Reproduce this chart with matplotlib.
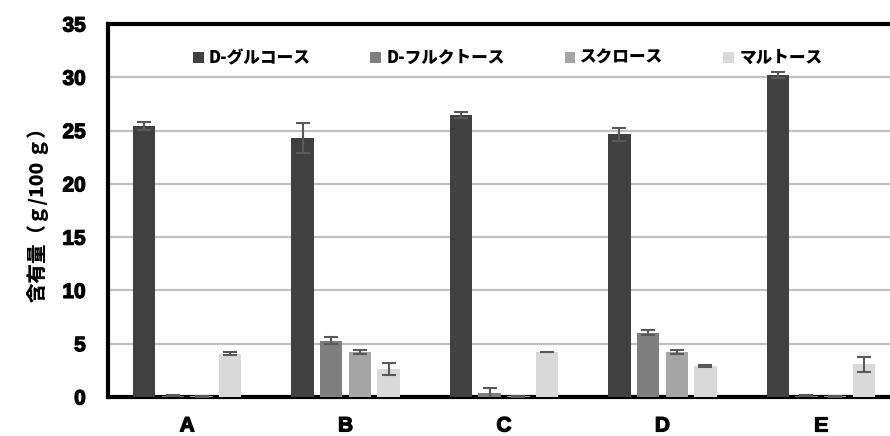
import numpy as np
import matplotlib
matplotlib.use("Agg")
import matplotlib.pyplot as plt
import matplotlib.patheffects as pe

plt.rcParams["font.family"] = ["Liberation Sans", "Noto Sans CJK JP", "DejaVu Sans"]

samples = ["A", "B", "C", "D", "E"]
series = ["D-グルコース", "D-フルクトース", "スクロース", "マルトース"]
glucose = [25.45, 24.3, 26.45, 24.65, 30.2]
glucose_err = [0.4, 1.45, 0.3, 0.6, 0.3]
fructose = [0.12, 5.3, 0.35, 6.03, 0.12]
fructose_err = [0.05, 0.35, 0.5, 0.22, 0.05]
sucrose = [0.05, 4.22, 0.05, 4.22, 0.05]
sucrose_err = [0.02, 0.22, 0.02, 0.22, 0.02]
maltose = [4.06, 2.63, 4.22, 2.94, 3.06]
maltose_err = [0.12, 0.55, 0.04, 0.1, 0.7]
colors = ["#404040", "#7f7f7f", "#a5a5a5", "#d9d9d9"]
ylabel = "含有量（ｇ/100 ｇ）"

values = [glucose, fructose, sucrose, maltose]
errors = [glucose_err, fructose_err, sucrose_err, maltose_err]

fig = plt.figure(figsize=(8.9, 4.36), dpi=100)
ax = fig.add_axes([108 / 890, 1 - 397 / 436, 792 / 890, 373 / 436])

x = np.arange(len(samples))
step = 0.181
width = 0.141
for i, (vals, errs, col, name) in enumerate(zip(values, errors, colors, series)):
    pos = x + (i - 1.5) * step
    ax.bar(pos, vals, width=width, color=col, label=name, zorder=3)
    ax.errorbar(pos, vals, yerr=errs, fmt="none", ecolor="#595959",
                elinewidth=1.5, capsize=5, capthick=1.5, zorder=4)

ax.set_xlim(-0.5, 4.5)
ax.set_ylim(0, 35)
ax.set_yticks(np.arange(0, 36, 5))
ax.set_xticks(x)
ax.set_xticklabels(samples)
ax.tick_params(length=0, labelsize=15)
ax.tick_params(axis="y", pad=16)
ax.tick_params(axis="x", pad=14)
# faux "Arial Black" weight
heavy = [pe.withStroke(linewidth=0.9, foreground="black")]
for lab in ax.get_xticklabels() + ax.get_yticklabels():
    lab.set_fontweight("bold")
    lab.set_path_effects(heavy)

ax.yaxis.grid(True, color="#c0c0c0", linewidth=1.6, zorder=0)
ax.set_axisbelow(True)
for side in ["top", "left", "bottom"]:
    ax.spines[side].set_linewidth(3)
    ax.spines[side].set_color("black")
ax.spines["right"].set_visible(False)

ax.set_ylabel(ylabel, fontsize=14, fontweight="black",
              family=["Noto Sans CJK JP", "DejaVu Sans"], labelpad=10)

leg = ax.legend(loc="center", bbox_to_anchor=(0.5045, 0.909), ncol=4, frameon=False,
                prop={"family": ["Noto Sans CJK JP", "DejaVu Sans"], "weight": "black", "size": 12},
                handlelength=0.65, handleheight=0.65, handletextpad=0.3, columnspacing=3.6)

fig.savefig("out.png", dpi=100)
